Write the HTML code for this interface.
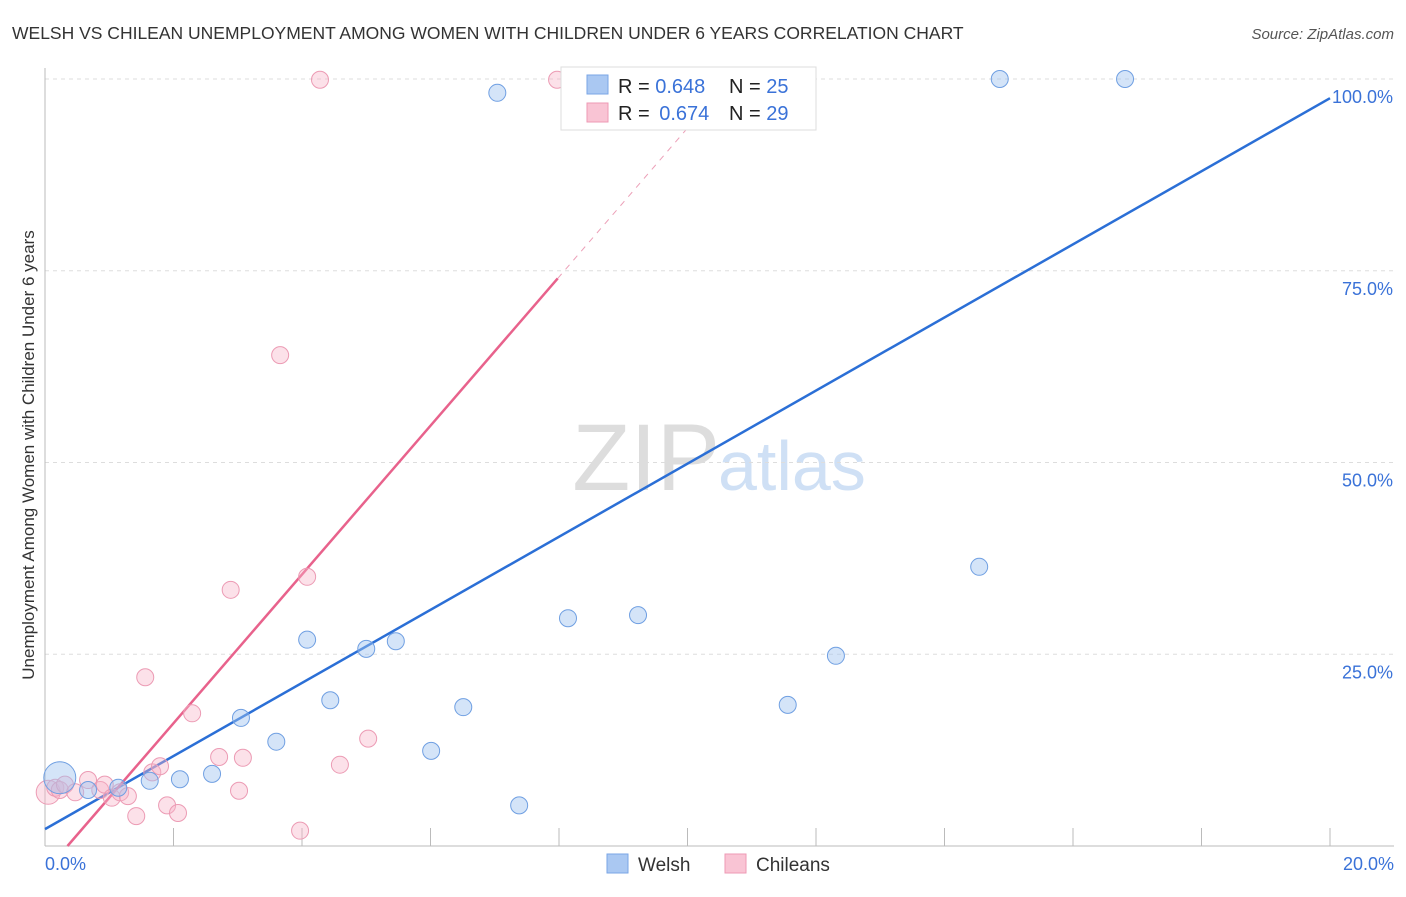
<!DOCTYPE html>
<html><head><meta charset="utf-8"><style>
body{margin:0;background:#fff;font-family:"Liberation Sans",sans-serif}
svg text{font-family:"Liberation Sans",sans-serif}
</style></head><body>
<svg id="c" width="1406" height="892" xmlns="http://www.w3.org/2000/svg">
<text x="12" y="39" font-size="17.5" fill="#333">WELSH VS CHILEAN UNEMPLOYMENT AMONG WOMEN WITH CHILDREN UNDER 6 YEARS CORRELATION CHART</text>
<text x="1394" y="39" font-size="15" fill="#555" font-style="italic" text-anchor="end">Source: ZipAtlas.com</text>
<text x="720" y="490" font-size="95" fill="#ddd" text-anchor="end" font-family="Liberation Serif">ZIP</text>
<text x="718" y="490" font-size="70" fill="#cfe0f5">atlas</text>
<text transform="translate(34,455) rotate(-90)" font-size="17" fill="#333" text-anchor="middle">Unemployment Among Women with Children Under 6 years</text>
<g id="grid"></g><g id="lines"></g><g id="pts"></g>
<g>
<rect x="561" y="67" width="255" height="63" fill="#fff" stroke="#ddd"/>
<rect x="587" y="75" width="21" height="19" fill="#aac8f2" stroke="#7aa6e6"/>
<rect x="587" y="103" width="21" height="19" fill="#f9c4d4" stroke="#ee9ab4"/>
<text x="618" y="93" font-size="20" fill="#222">R = <tspan fill="#3a72d8">0.648</tspan><tspan x="729">N = </tspan><tspan fill="#3a72d8">25</tspan></text>
<text x="618" y="120" font-size="20" fill="#222">R = <tspan fill="#3a72d8" dx="4">0.674</tspan><tspan x="729">N = </tspan><tspan fill="#3a72d8">29</tspan></text>
</g>
<g>
<rect x="607" y="854" width="21" height="19" fill="#aac8f2" stroke="#7aa6e6"/>
<text x="638" y="871" font-size="19" fill="#333">Welsh</text>
<rect x="725" y="854" width="21" height="19" fill="#f9c4d4" stroke="#ee9ab4"/>
<text x="756" y="871" font-size="19" fill="#333">Chileans</text>
</g>
</svg>
<script>
const welshX=[0.23,0.67,1.14,1.63,2.1,2.6,3.05,3.6,4.08,4.44,5.0,5.46,6.01,6.51,7.04,7.38,8.14,8.65,9.23,10.63,11.56,12.31,14.54,14.86,16.81];
const welshY=[8.9,7.3,7.6,8.5,8.7,9.4,16.7,13.6,26.9,19.0,25.7,26.7,12.4,18.1,98.2,5.3,29.7,100,30.1,100,18.4,24.8,36.4,100,100];
const chileX=[0.05,0.16,0.23,0.31,0.47,0.67,0.86,0.93,1.04,1.17,1.29,1.42,1.56,1.67,1.79,1.9,2.07,2.29,2.71,2.89,3.02,3.08,3.66,3.97,4.08,4.28,4.59,5.03,7.97];
const chileY=[7.0,7.6,7.3,8.0,7.0,8.6,7.3,8.0,6.3,7.0,6.5,3.9,22.0,9.6,10.4,5.3,4.3,17.3,11.6,33.4,7.2,11.5,64.0,2.0,35.1,99.9,10.6,14.0,99.9];
const xTicks=["0.0%","20.0%"];
const yTicks=[25,50,75,100];
const yTickLabels=["25.0%","50.0%","75.0%","100.0%"];
const welshTrend=[[0,2.2],[20,97.5]];
const chileTrend=[[0.35,0],[7.98,74.0]];
const chileTrendExt=[[7.98,74.0],[10.66,100]];
const X=v=>45+v*64.25, Y=v=>846-v*7.67;
const NS="http://www.w3.org/2000/svg";
function mk(p,t,a){const e=document.createElementNS(NS,t);for(const k in a)e.setAttribute(k,a[k]);p.appendChild(e);return e;}
const g=document.getElementById('grid');
yTicks.forEach((t,i)=>{
 const l=mk(g,'line',{x1:45,x2:1394,y1:Y(t),y2:Y(t),stroke:'#ddd','stroke-dasharray':'4 4'});
 
 
 const tx=mk(g,'text',{x:1393,y:Y(t)+24,'font-size':18,fill:'#3a72d8','text-anchor':'end'});
 tx.textContent=yTickLabels[i];
 
 
});
const ax=mk(g,'line',{x1:45,x2:1394,y1:846,y2:846,stroke:'#bbb'});


const ay=mk(g,'line',{x1:45,x2:45,y1:68,y2:846,stroke:'#bbb'});


for(let v=2;v<=20;v+=2){const t=mk(g,'line',{x1:X(v),x2:X(v),y1:828,y2:846,stroke:'#bbb'});
 
 }
[[0,'start',45],[20,'end',1394]].forEach((d,i)=>{const t=mk(g,'text',{x:d[2],y:870,'font-size':18,fill:'#3a72d8','text-anchor':d[1]});t.textContent=xTicks[i];
 
 });
const pg=document.getElementById('pts');
function pts(xs,ys,fill,stroke,name){xs.forEach((x,i)=>{const r=(i===0&&name==='welsh-point')?16:(i===0?12:8.5);
 const c=mk(pg,'circle',{cx:X(x),cy:Y(ys[i]),r:r,fill:fill,stroke:stroke,'stroke-width':1});
 
 });}
pts(chileX,chileY,'rgba(248,180,200,0.4)','#ec9bb4','chilean-point');
pts(welshX,welshY,'rgba(160,195,240,0.45)','#6f9fe2','welsh-point');
const lg=document.getElementById('lines');
function ln(tr,col,dash,name){const l=mk(lg,'line',{x1:X(tr[0][0]),y1:Y(tr[0][1]),x2:X(tr[1][0]),y2:Y(tr[1][1]),stroke:col,'stroke-width':dash?1:2.5});
 if(dash)l.setAttribute('stroke-dasharray','6 6');
 
 }
ln(welshTrend,'#2b6fd6',false,'welsh-trendline');
ln(chileTrend,'#e8628c',false,'chilean-trendline');
ln(chileTrendExt,'#eca0b8',true,'chilean-trendline-extension');
</script>
</body></html>
